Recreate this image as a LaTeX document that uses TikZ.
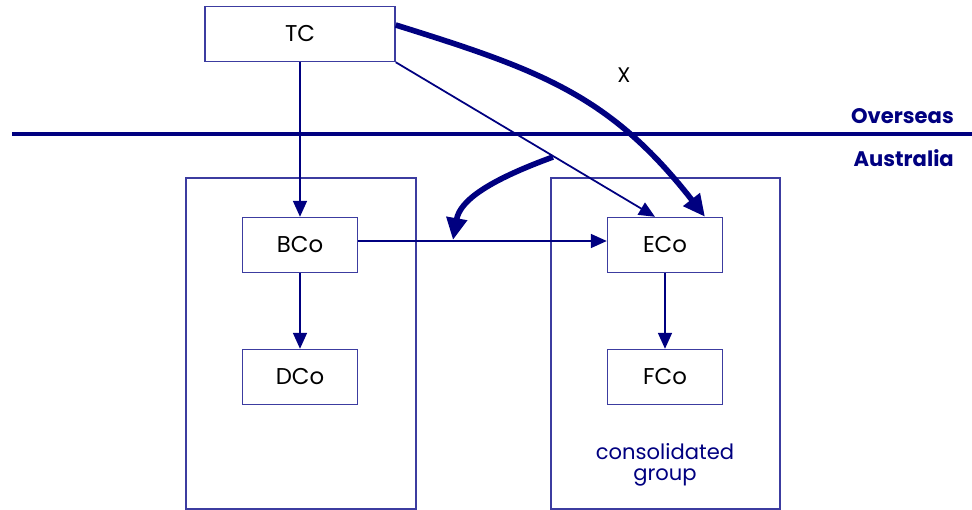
\documentclass[tikz,border=0pt]{standalone}
\usepackage{fontspec}
\setmainfont{Poppins}
\usepackage{tikz}
\usetikzlibrary{arrows.meta}
\definecolor{navy}{HTML}{000080}
\definecolor{boxblue}{HTML}{3C3CA0}

\begin{document}
\begin{tikzpicture}[x=0.2mm,y=-0.2mm,
  company/.style={draw=boxblue,thick,minimum width=23mm,minimum height=11mm,inner sep=0pt,font=\fontsize{13}{15}\selectfont},
  region/.style={draw=boxblue,thick},
  link/.style={navy,line width=1pt,-{Triangle[length=3.2mm,width=2.8mm]}},
  heavy/.style={navy,line width=3.2pt,-{Triangle[length=4.4mm,width=4mm]}}]
  \useasboundingbox (0,0) rectangle (972,510);
  \draw[region] (186,178) rectangle (416,509);
  \draw[region] (551,178) rectangle (780,509);
  \node[company,minimum width=38mm] (tc) at (300,34) {TC};
  \node[company] (bco) at (300,245) {BCo};
  \node[company] (dco) at (300,377) {DCo};
  \node[company] (eco) at (665,245) {ECo};
  \node[company] (fco) at (665,377) {FCo};
  \coordinate (bl) at (12,134);
  \coordinate (br) at (972,134);
  \draw[navy,line width=2.6pt] (bl) -- (br);
  \node[navy,anchor=east,font=\fontsize{12}{14}\selectfont\bfseries] (ovs) at (960,116) {Overseas};
  \node[navy,anchor=east,font=\fontsize{12}{14}\selectfont\bfseries] (aus) at (960,158) {Australia};
  \node[navy,align=center,font=\fontsize{12}{14}\selectfont] (grp) at (665,465) {consolidated\\[-2pt]group};
  \draw[link] (tc) -- (bco);
  \draw[link] (bco) -- (dco);
  \draw[link] (eco) -- (fco);
  \draw[link] ([yshift=0.8mm]bco.east) -- ([yshift=0.8mm]eco.west);
  \draw[link] (tc.south east) -- ([xshift=-2mm]eco.north);
  \draw[heavy] ([yshift=1.8mm]tc.east) .. controls (540,70) and (610,95) .. ([xshift=8mm]eco.north);
  \node[font=\fontsize{12}{14}\selectfont] (x) at (624,75) {X};
  \coordinate (kink) at (553,157);
  \draw[heavy] (kink) .. controls (490,180) and (460,200) .. (453,240);
\end{tikzpicture}
\end{document}
